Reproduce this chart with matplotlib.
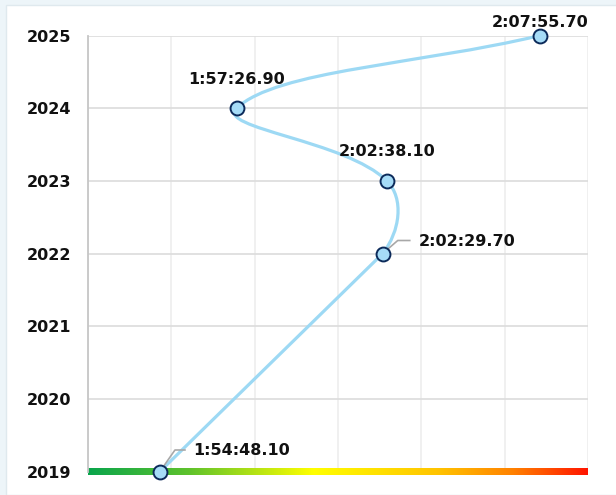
import numpy as np
import matplotlib.pyplot as plt
from matplotlib.path import Path
from matplotlib.patches import PathPatch, Rectangle
from matplotlib.colors import LinearSegmentedColormap

# data
years = [2019, 2022, 2023, 2024, 2025]
times = ['1:54:48.10', '2:02:29.70', '2:02:38.10', '1:57:26.90', '2:07:55.70']
year_ticks = [2019, 2020, 2021, 2022, 2023, 2024, 2025]


def to_seconds(s):
    h, m, sec = s.split(':')
    return int(h) * 3600 + int(m) * 60 + float(sec)


secs = np.array([to_seconds(t) for t in times])

# label placement (pixel offsets from the point), leader line points
label_pos = [(33, 21.5, 'left'), (36, 12.5, 'left'), (0, 29, 'center'),
             (0, 29, 'center'), (0, 13, 'center')]
leaders = [[(0, 0), (15, 21.5), (25, 21.5)], [(0, 0), (15, 13), (27, 13)],
           None, None, None]

fig = plt.figure(figsize=(6.16, 4.95), dpi=100)
fig.patch.set_facecolor('#edf5f9')
fig.patches.append(Rectangle((6 / 616, 0), 1, 490 / 495, transform=fig.transFigure,
                             facecolor='white', edgecolor='#dfe9ee', lw=1, zorder=-5))

ax = fig.add_axes([88 / 616, 23.5 / 495, 500 / 616, 436 / 495])
ax.set_facecolor('white')

ax.set_xticks(np.linspace(6739, 7775, 7))
ax.set_xticklabels([])
ax.set_yticks(year_ticks)
ax.set_yticklabels([str(y) for y in year_ticks], fontsize=11.5, fontweight='bold', color='#111111')
ax.tick_params(length=0, axis='y', pad=12)
ax.tick_params(length=0, axis='x')
ax.xaxis.grid(True, color='#efefef', lw=1.3)
ax.yaxis.grid(True, color='#dedede', lw=1.3)
ax.set_axisbelow(True)
for s in ['top', 'right', 'bottom']:
    ax.spines[s].set_visible(False)
ax.spines['left'].set_color('#c6c6c6')
ax.spines['left'].set_linewidth(1.3)

# gradient base line
cmap = LinearSegmentedColormap.from_list('g', [(0, '#0aa54c'), (0.2, '#5ec22c'), (0.45, '#ffff00'),
                                               (0.7, '#ffc400'), (0.85, '#ff8200'), (1, '#ff1500')])
grad = np.linspace(0, 1, 256).reshape(1, -1)
ax.imshow(grad, cmap=cmap, aspect='auto', extent=[0, 1, -0.008, 0.008],
          transform=ax.transAxes, clip_on=False, zorder=2)
ax.set_xlim(6739, 7775)
ax.set_ylim(2019, 2025)


def spline_path(xs, ys, tension=0.4):
    # cardinal spline in screen space; a gap in the years is bridged straight
    pts = ax.transData.transform(np.column_stack([xs, ys]))
    n = len(pts)
    cp_prev, cp_next = [], []
    for i in range(n):
        prev, cur, nxt = pts[max(i - 1, 0)], pts[i], pts[min(i + 1, n - 1)]
        d01 = np.hypot(*(cur - prev))
        d12 = np.hypot(*(nxt - cur))
        tot = d01 + d12
        fa = tension * d01 / tot if tot else 0
        fb = tension * d12 / tot if tot else 0
        cp_prev.append(cur - fa * (nxt - prev))
        cp_next.append(cur + fb * (nxt - prev))
    verts = [pts[0]]
    codes = [Path.MOVETO]
    for i in range(1, n):
        if ys[i] - ys[i - 1] > 1:
            verts.append(pts[i])
            codes.append(Path.LINETO)
        else:
            verts += [cp_next[i - 1], cp_prev[i], pts[i]]
            codes += [Path.CURVE4] * 3
    verts = ax.transData.inverted().transform(np.array(verts))
    return Path(verts, codes)


ax.add_patch(PathPatch(spline_path(secs, years), facecolor='none', edgecolor='#9dd9f4',
                       lw=2.3, zorder=3, clip_on=False, capstyle='round', joinstyle='round'))

# leader lines
for x, y, ld in zip(secs, years, leaders):
    if ld is None:
        continue
    px, py = ax.transData.transform((x, y))
    pts = ax.transData.inverted().transform([(px + dx, py + dy) for dx, dy in ld])
    ax.plot(pts[:, 0], pts[:, 1], color='#a8a8a8', lw=1.2, zorder=3.5, clip_on=False)

ax.plot(secs, years, 'o', ms=10, mfc='#a6dcf7', mec='#0c2a5a', mew=1.4, zorder=4, clip_on=False)

for x, y, t, (dx, dy, ha) in zip(secs, years, times, label_pos):
    ax.annotate(t, (x, y), xytext=(dx, dy), textcoords='offset pixels', ha=ha, va='center',
                fontsize=11.5, fontweight='bold', color='#111111', zorder=5)

fig.savefig('out.png', dpi=100, facecolor=fig.get_facecolor())
